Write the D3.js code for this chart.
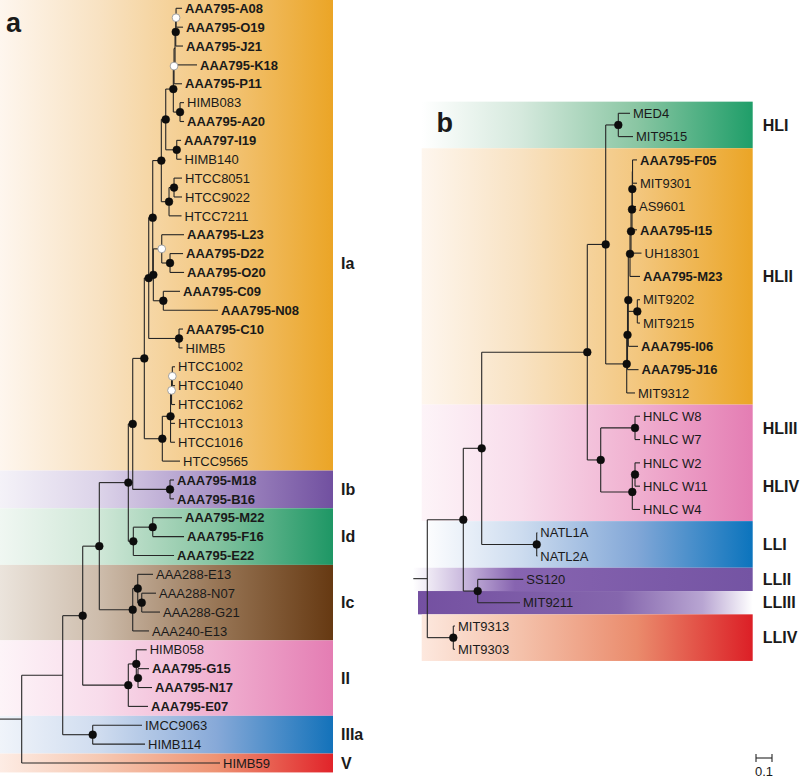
<!DOCTYPE html>
<html><head><meta charset="utf-8">
<script src="https://cdn.jsdelivr.net/npm/d3@7"></script>
<style>
body{margin:0;background:#fff}
svg{display:block}
text{font-family:"Liberation Sans",Arial,sans-serif;fill:#1a1a1a}
</style>
</head><body>
<svg id="chart" width="800" height="781"></svg>
<script>
// ---------- DATA ----------
// Panel a tree (Newick, branch lengths in substitutions/site; internal label b = black dot, w = white dot, n = none)
const treeA = "((((((((((((((((AAA795-A08:0.0375,AAA795-O19:0.0438)w:0.0019,AAA795-J21:0.0456)b:0.0044,AAA795-K18:0.1375)n:0.0063,AAA795-P11:0.05)w:0.0044,(HIMB083:0.025,AAA795-A20:0.025)b:0.0419)b:0.0475,(AAA797-I19:0.0269,HIMB140:0.03)b:0.0688)b:0.0275,((HTCC8051:0.05,HTCC9022:0.05)b:0.0313,HTCC7211:0.0781)b:0.0481)b:0.0538,((AAA795-L23:0.1394,(AAA795-D22:0.0813,AAA795-O20:0.0875)b:0.0519)w:0.0525,(AAA795-C09:0.1044,AAA795-N08:0.3419)b:0.0625)b:0.0038)b:0.025,(AAA795-C10:0.025,HIMB5:0.0219)b:0.1894)b:0.0275,((((HTCC1002:0.0169,HTCC1040:0.0169)w:0.005,HTCC1062:0.0219)w:0.0063,HTCC1013:0.0281,HTCC1016:0.0281)b:0.0513,HTCC9565:0.1106)b:0.1125)b:0.0725,(AAA795-M18:0.025,AAA795-B16:0.025)b:0.2331)b:0.0275,((AAA795-M22:0.1831,AAA795-F16:0.1956)b:0.1213,AAA795-E22:0.2544)b:0.0313)b:0.1813,((AAA288-E13:0.0956,(AAA288-N07:0.0894,AAA288-G21:0.1144)b:0.025)b:0.0313,AAA240-E13:0.1019)b:0.2088)b:0.1038,((HIMB058:0.065,(AAA795-G15:0.0688,AAA795-N17:0.0875)b:0.0106)b:0.05,AAA795-E07:0.1231)b:0.285)b:0.125,(IMCC9063:0.3081,HIMB114:0.3269)b:0.1875)n:0.2563,HIMB59:1.2394)n:0.1356;";

// Panel b tree
const treeB = "((((((MED4:0.0731,MIT9515:0.0919)b:0.0788,((((((((AAA795-F05:0.0281,MIT9301:0.0281)n:0.0013,AS9601:0.0231)b:0.0019,AAA795-I15:0.0313)b:0.0063,UH18301:0.0656)b:0.0063,AAA795-M23:0.0625)b:0.0106,(MIT9202:0.0169,MIT9215:0.0169)b:0.0563,AAA795-I06:0.0606)b:0.005,AAA795-J16:0.0688)b:0.005,MIT9312:0.0519)b:0.1313)b:0.115,((HNLC W8:0.0313,HNLC W7:0.0313)b:0.2144,((HNLC W2:0.0313,HNLC W11:0.0313)b:0.0169,HNLC W4:0.0481)b:0.1975)b:0.0838)b:0.66,(NATL1A:0.0038,NATL2A:0.0038)b:0.3438)b:0.115,(SS120:0.285,MIT9211:0.2644)b:0.09)b:0.225,(MIT9313:0.0106,MIT9303:0.0106)b:0.1625)n:0.0875;";

// Clade bands (first leaf .. last leaf)
const bandNamesA = ["Ia", "Ib", "Id", "Ic", "II", "IIIa", "V"];
const bandFirstA = ["AAA795-A08", "AAA795-M18", "AAA795-M22", "AAA288-E13", "HIMB058", "IMCC9063", "HIMB59"];
const bandLastA  = ["HTCC9565", "AAA795-B16", "AAA795-E22", "AAA240-E13", "AAA795-E07", "HIMB114", "HIMB59"];

const bandNamesB = ["HLI", "HLII", "HLIII-IV", "LLI", "LLII", "LLIII", "LLIV"];
const bandFirstB = ["MED4", "AAA795-F05", "HNLC W8", "NATL1A", "SS120", "MIT9211", "MIT9313"];
const bandLastB  = ["MIT9515", "MIT9312", "HNLC W4", "NATL2A", "SS120", "MIT9211", "MIT9303"];

// Clade labels
const labelNamesA = ["Ia", "Ib", "Id", "Ic", "II", "IIIa", "V"];
const labelFirstA = ["AAA795-K18", "AAA795-M18", "AAA795-M22", "AAA288-E13", "HIMB058", "IMCC9063", "HIMB59"];
const labelLastA  = ["HTCC9565", "AAA795-B16", "AAA795-E22", "AAA240-E13", "AAA795-E07", "HIMB114", "HIMB59"];

const labelNamesB = ["HLI", "HLII", "HLIII", "HLIV", "LLI", "LLII", "LLIII", "LLIV"];
const labelFirstB = ["MED4", "AAA795-F05", "HNLC W8", "HNLC W2", "NATL1A", "SS120", "MIT9211", "MIT9313"];
const labelLastB  = ["MIT9515", "MIT9312", "HNLC W7", "HNLC W4", "NATL2A", "SS120", "MIT9211", "MIT9303"];

const scaleBarValue = 0.1;
const scaleBarLabel = "0.1";

// ---------- STYLES ----------
const gradStops = [0, 0.3, 0.65, 1];
const bandColors = {
  "Ia":   ["#fef6ee", "#f8e2c2", "#f3c77f", "#eba526"],
  "Ib":   ["#f4f2f8", "#dcd3e9", "#a892c6", "#7150a0"],
  "Id":   ["#f0f7f2", "#cfe7d7", "#84c3a0", "#1e9765"],
  "Ic":   ["#ebe4dc", "#cdbcab", "#987656", "#663912"],
  "II":   ["#fdf4f8", "#f8dceb", "#f0b0d0", "#e47db3"],
  "IIIa": ["#f0f4fa", "#cfdcef", "#87a9d8", "#1372ba"],
  "V":    ["#fdece4", "#f6c8b2", "#ee9373", "#e1242a"],
  "HLI":  ["#ffffff", "#d5e9dd", "#8ac6a3", "#1f9e69"],
  "HLII": ["#fef6ee", "#f8e2c2", "#f3c77f", "#eba526"],
  "HLIII-IV": ["#fdf4f8", "#f8dceb", "#f0b0d0", "#e47db3"],
  "LLI":  ["#ffffff", "#cddcef", "#82a7d7", "#0b74bd"],
  "LLIV": ["#fde8de", "#f4c1aa", "#ea8b6c", "#dc1f26"]
};
const customGrad = {
  "LLII":  [[0, "#ffffff"], [0.15, "#c9b8dd"], [0.3, "#8764b0"], [1, "#7454a3"]],
  "LLIII": [[0, "#7450a1"], [0.6, "#8566ad"], [0.85, "#b8a5d2"], [1, "#ffffff"]]
};

// ---------- HELPERS ----------
function parseNewick(s) {
  let i = 0;
  function node() {
    const n = {};
    if (s[i] === "(") {
      n.children = [];
      i++;
      n.children.push(node());
      while (s[i] === ",") { i++; n.children.push(node()); }
      i++; // ')'
    }
    let name = "";
    while (i < s.length && !",():;".includes(s[i])) name += s[i++];
    n.name = name.trim();
    n.len = 0;
    if (s[i] === ":") {
      i++;
      let l = "";
      while (i < s.length && !",();".includes(s[i])) l += s[i++];
      n.len = +l;
    }
    return n;
  }
  return node();
}

const svg = d3.select("#chart");
const defs = svg.append("defs");

function makeGradient(id, name) {
  const g = defs.append("linearGradient").attr("id", id)
    .attr("x1", "0%").attr("x2", "100%").attr("y1", "0%").attr("y2", "0%");
  const stops = customGrad[name] || gradStops.map((o, k) => [o, bandColors[name][k]]);
  stops.forEach(([o, c]) => g.append("stop").attr("offset", o).attr("stop-color", c));
}

function layoutTree(newick, yRange, xOrigin) {
  const root = d3.hierarchy(parseNewick(newick));
  root.each(d => { d.dist = (d.parent ? d.parent.dist : 0) + d.data.len; });
  const leaves = root.leaves();
  const y = d3.scaleLinear().domain([0, leaves.length - 1]).range(yRange);
  const x = d3.scaleLinear().domain([0, 1]).range([xOrigin, xOrigin + 160]);
  leaves.forEach((l, i) => { l.y = y(i); });
  root.eachAfter(d => {
    if (d.children) d.y = (d.children[0].y + d.children[d.children.length - 1].y) / 2;
    d.x = x(d.dist);
  });
  const byName = {};
  leaves.forEach(l => byName[l.data.name] = l);
  return { root, leaves, x, y, step: y(1) - y(0), byName };
}

function drawBands(g, T, names, firsts, lasts, x0, x1, prefix, extents) {
  names.forEach((n, k) => {
    const id = prefix + k;
    makeGradient(id, n);
    const top = T.byName[firsts[k]].y - T.step / 2;
    const bot = T.byName[lasts[k]].y + T.step / 2;
    const ex = (extents && extents[n]) || [x0, x1];
    g.append("rect").attr("x", ex[0]).attr("y", top)
      .attr("width", ex[1] - ex[0]).attr("height", bot - top)
      .attr("fill", `url(#${id})`);
  });
}

function drawTree(g, T) {
  const root = T.root;
  const lineCol = "#262626";
  g.append("line").attr("x1", T.x(0)).attr("x2", root.x)
    .attr("y1", root.y).attr("y2", root.y)
    .attr("stroke", lineCol).attr("stroke-width", 1.1);
  const nodes = root.descendants();
  g.selectAll("line.v").data(nodes.filter(d => d.children)).join("line")
    .attr("class", "v")
    .attr("x1", d => d.x).attr("x2", d => d.x)
    .attr("y1", d => d.children[0].y).attr("y2", d => d.children[d.children.length - 1].y)
    .attr("stroke", lineCol).attr("stroke-width", 1.1);
  g.selectAll("line.h").data(nodes.filter(d => d.parent)).join("line")
    .attr("class", "h")
    .attr("x1", d => d.parent.x).attr("x2", d => d.x)
    .attr("y1", d => d.y).attr("y2", d => d.y)
    .attr("stroke", lineCol).attr("stroke-width", 1.1);
  const dotted = nodes.filter(d => d.children && (d.data.name === "b" || d.data.name === "w"));
  g.selectAll("circle.s").data(dotted).join("circle")
    .attr("class", "s")
    .attr("cx", d => d.x).attr("cy", d => d.y).attr("r", 3.9)
    .attr("fill", d => d.data.name === "b" ? "#0d0d0d" : "#ffffff")
    .attr("stroke", d => d.data.name === "b" ? "#0d0d0d" : "#9a9a9a")
    .attr("stroke-width", d => d.data.name === "b" ? 0.5 : 0.9);
  g.selectAll("text.leaf").data(T.leaves).join("text")
    .attr("class", "leaf")
    .attr("x", d => d.x + 3).attr("y", d => d.y).attr("dy", "0.36em")
    .attr("font-size", 13)
    .attr("font-weight", d => /^AAA79[57]/.test(d.data.name) ? "bold" : "normal")
    .text(d => d.data.name);
}

function drawCladeLabels(g, T, names, firsts, lasts, lx) {
  names.forEach((n, k) => {
    const yc = (T.byName[firsts[k]].y + T.byName[lasts[k]].y) / 2;
    g.append("text").attr("x", lx).attr("y", yc).attr("dy", "0.36em")
      .attr("font-size", 16).attr("font-weight", "bold").text(n);
  });
}

// ---------- PANEL A ----------
const TA = layoutTree(treeA, [8.3, 763], 0);
const gA = svg.append("g");
drawBands(gA, TA, bandNamesA, bandFirstA, bandLastA, 0, 333, "ga");
drawTree(gA, TA);
drawCladeLabels(gA, TA, labelNamesA, labelFirstA, labelLastA, 341);
svg.append("text").attr("x", 6).attr("y", 32).attr("font-size", 27)
  .attr("font-weight", "bold").text("a");

// ---------- PANEL B ----------
const TB = layoutTree(treeB, [113.3, 649.3], 413.3);
const gB = svg.append("g");
drawBands(gB, TB, bandNamesB, bandFirstB, bandLastB, 421.7, 752.7, "gb",
  { "LLII": [413, 752.7], "LLIII": [418, 752.7] });
drawTree(gB, TB);
drawCladeLabels(gB, TB, labelNamesB, labelFirstB, labelLastB, 762.7);
svg.append("text").attr("x", 436.5).attr("y", 131.5).attr("font-size", 27)
  .attr("font-weight", "bold").text("b");

// ---------- SCALE BAR ----------
const sbX0 = 756, sbY = 758;
const sbX1 = sbX0 + (TB.x(scaleBarValue) - TB.x(0));
const sb = svg.append("g").attr("stroke", "#262626").attr("stroke-width", 1.1);
sb.append("line").attr("x1", sbX0).attr("x2", sbX1).attr("y1", sbY).attr("y2", sbY);
sb.append("line").attr("x1", sbX0).attr("x2", sbX0).attr("y1", sbY - 4).attr("y2", sbY + 4);
sb.append("line").attr("x1", sbX1).attr("x2", sbX1).attr("y1", sbY - 4).attr("y2", sbY + 4);
svg.append("text").attr("x", (sbX0 + sbX1) / 2).attr("y", 776).attr("text-anchor", "middle")
  .attr("font-size", 13).text(scaleBarLabel);
</script>
</body></html>
